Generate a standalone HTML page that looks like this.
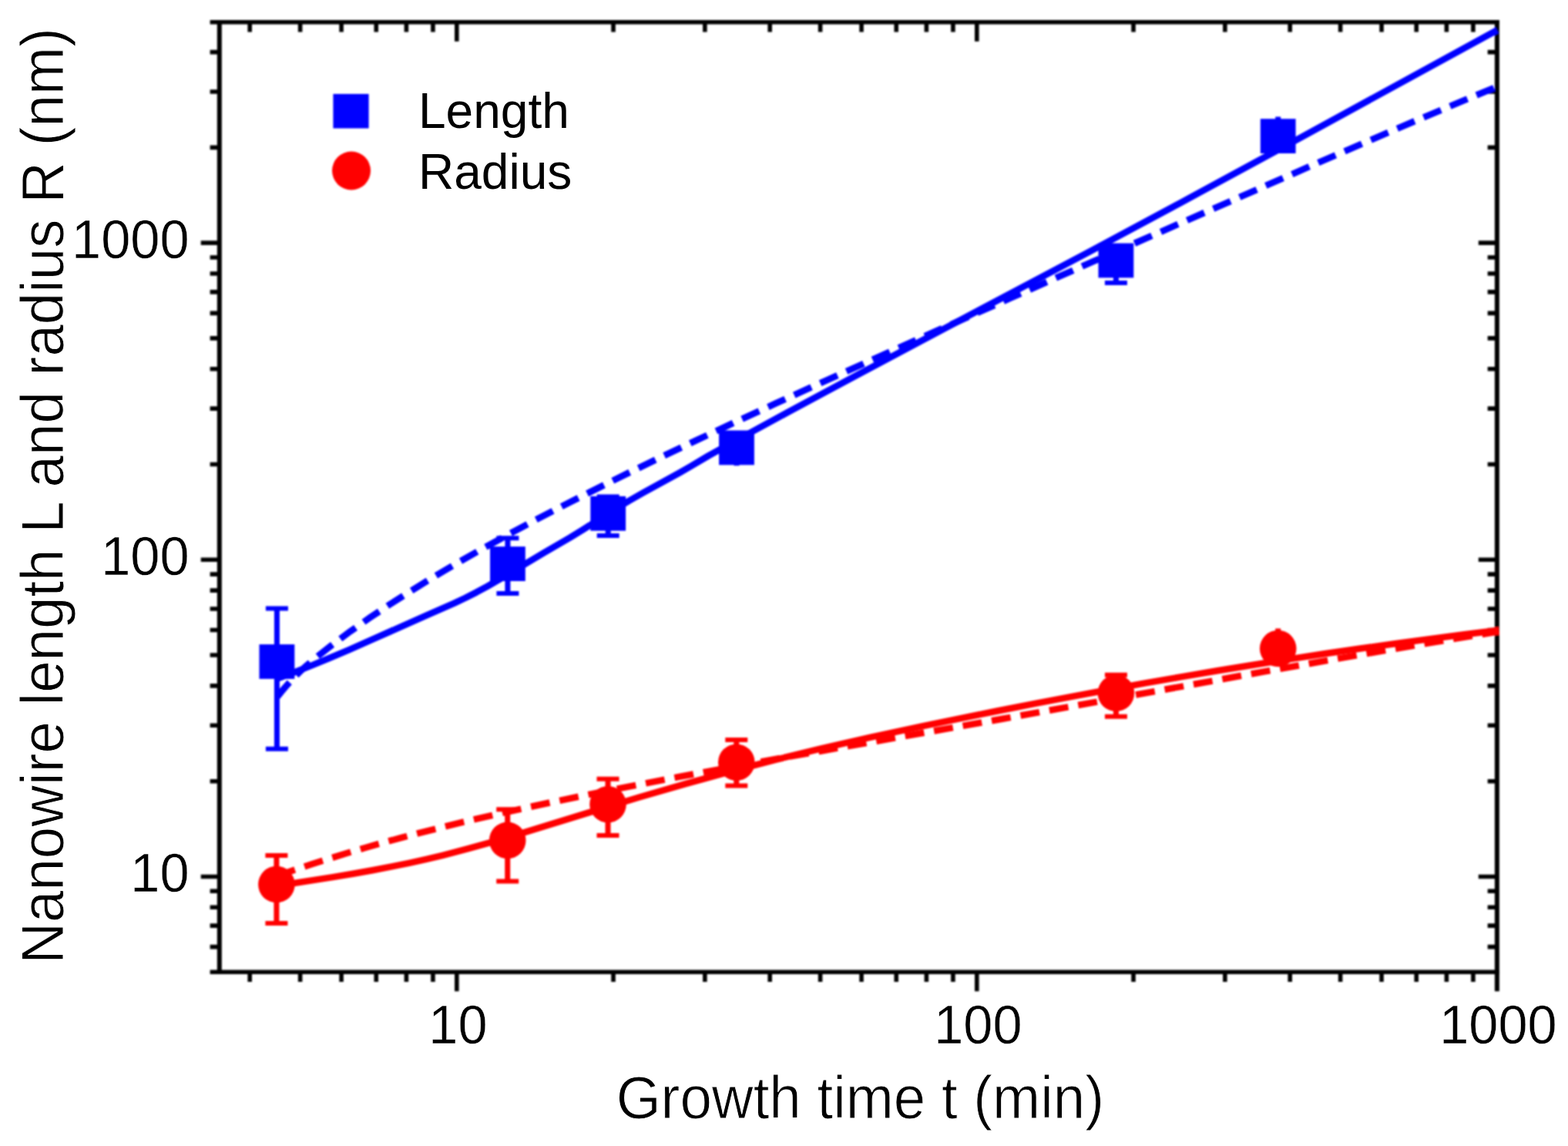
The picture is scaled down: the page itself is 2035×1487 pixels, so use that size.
<!DOCTYPE html>
<html lang="en">
<head>
<meta charset="utf-8">
<title>Nanowire length L and radius R versus growth time t</title>
<style>
html,body{margin:0;padding:0;background:#fff;overflow:hidden;}
body{width:2035px;height:1487px;overflow:hidden;font-family:"Liberation Sans",sans-serif;}
svg{display:block;}
</style>
</head>
<body>
<svg width="2035" height="1487" viewBox="0 0 2035 1487" role="img" aria-label="Log-log plot of nanowire length L and radius R (nm) versus growth time t (min)">
<rect width="2035" height="1487" fill="#fff"/>
<defs><filter id="soft" x="-2%" y="-2%" width="104%" height="104%"><feGaussianBlur stdDeviation="0.8"/></filter></defs>
<g id="plot" filter="url(#soft)">
<g id="axes" stroke="#000" fill="none">
<path d="M272.6 28.7H1945.9M272.6 1261.2H1945.9" stroke-width="5.6"/>
<path d="M284.8 25.9V1264M1942.9 25.9V1286.2" stroke-width="6.0"/>
</g>
<g id="ticks" stroke="#000" fill="none" stroke-width="5.6">
<path d="M324.19 1261.2v12.8M324.19 28.7v12.8M389.6 1261.2v12.8M389.6 28.7v12.8M443.05 1261.2v12.8M443.05 28.7v12.8M488.24 1261.2v12.8M488.24 28.7v12.8M527.39 1261.2v12.8M527.39 28.7v12.8M561.91 1261.2v12.8M561.91 28.7v12.8M592.8 1261.2v25M592.8 28.7v25M796 1261.2v12.8M796 28.7v12.8M914.86 1261.2v12.8M914.86 28.7v12.8M999.19 1261.2v12.8M999.19 28.7v12.8M1064.6 1261.2v12.8M1064.6 28.7v12.8M1118.05 1261.2v12.8M1118.05 28.7v12.8M1163.24 1261.2v12.8M1163.24 28.7v12.8M1202.39 1261.2v12.8M1202.39 28.7v12.8M1236.91 1261.2v12.8M1236.91 28.7v12.8M1267.8 1261.2v25M1267.8 28.7v25M1471 1261.2v12.8M1471 28.7v12.8M1589.86 1261.2v12.8M1589.86 28.7v12.8M1674.19 1261.2v12.8M1674.19 28.7v12.8M1739.6 1261.2v12.8M1739.6 28.7v12.8M1793.05 1261.2v12.8M1793.05 28.7v12.8M1838.24 1261.2v12.8M1838.24 28.7v12.8M1877.39 1261.2v12.8M1877.39 28.7v12.8M1911.91 1261.2v12.8M1911.91 28.7v12.8"/>
<path d="M284.8 1228.66h-12.2M1942.9 1228.66h-12.2M284.8 1201.14h-12.2M1942.9 1201.14h-12.2M284.8 1177.29h-12.2M1942.9 1177.29h-12.2M284.8 1156.26h-12.2M1942.9 1156.26h-12.2M284.8 1137.45h-24.1M1942.9 1137.45h-24.1M284.8 1013.68h-12.2M1942.9 1013.68h-12.2M284.8 941.28h-12.2M1942.9 941.28h-12.2M284.8 889.91h-12.2M1942.9 889.91h-12.2M284.8 850.07h-12.2M1942.9 850.07h-12.2M284.8 817.51h-12.2M1942.9 817.51h-12.2M284.8 789.99h-12.2M1942.9 789.99h-12.2M284.8 766.14h-12.2M1942.9 766.14h-12.2M284.8 745.11h-12.2M1942.9 745.11h-12.2M284.8 726.3h-24.1M1942.9 726.3h-24.1M284.8 602.53h-12.2M1942.9 602.53h-12.2M284.8 530.13h-12.2M1942.9 530.13h-12.2M284.8 478.76h-12.2M1942.9 478.76h-12.2M284.8 438.92h-12.2M1942.9 438.92h-12.2M284.8 406.36h-12.2M1942.9 406.36h-12.2M284.8 378.84h-12.2M1942.9 378.84h-12.2M284.8 354.99h-12.2M1942.9 354.99h-12.2M284.8 333.96h-12.2M1942.9 333.96h-12.2M284.8 315.15h-24.1M1942.9 315.15h-24.1M284.8 191.38h-12.2M1942.9 191.38h-12.2M284.8 118.98h-12.2M1942.9 118.98h-12.2M284.8 67.61h-12.2M1942.9 67.61h-12.2"/>
</g>
<g id="curves" fill="none" stroke-width="8.5" stroke-linejoin="round">
<path id="DB" d="M359.5 904.7L364.8 898.0L370.1 891.7L375.4 885.7L382.0 878.7L388.6 872.2L395.2 866.0L409.8 853.5L430.9 836.9L454.7 819.2L479.9 801.6L506.3 784.0L534.1 766.3L563.2 748.4L593.6 730.5L625.4 712.4L658.4 694.3L695.5 674.5L735.1 654.0L777.5 632.6L818.5 612.3L860.8 591.8L905.8 570.4L954.7 547.5L1006.3 523.7L1065.8 496.6L1215.3 429.5L1310.5 387.2L1419.0 339.2L1711.3 210.9L1777.4 182.3L1836.9 156.8L1892.5 133.4L1945.4 111.4" stroke="#0000ff" stroke-dasharray="24.5 12.7" stroke-dashoffset="36.47"/>
<path id="SB" d="M359.3 880.8L380.4 872.9L402.9 864.1L426.7 854.3L453.1 843.1L483.4 829.7L552.1 799.1L589.1 782.9L603.6 776.0L618.2 768.6L632.7 760.7L649.9 750.8L705.3 717.7L739.7 697.7L756.8 687.1L796.4 661.9L816.3 649.9L834.7 639.4L882.3 613.2L895.5 605.6L919.3 591.5L951.0 573.9L1022.3 535.0L1109.4 488.2L1195.3 442.4L1413.2 326.9L1532.1 263.2L1669.4 188.7L1942.8 39.3" stroke="#0000ff"/>
<path id="DR" d="M359.0 1136.8L381.5 1129.0L404.0 1121.5L426.5 1114.3L450.3 1107.0L474.1 1100.0L497.9 1093.2L523.1 1086.4L548.2 1079.8L601.1 1066.6L656.7 1053.8L718.9 1040.3L789.0 1025.9L880.3 1008.2L982.2 989.3L1066.9 974.2L1302.4 932.5L1639.8 871.6L1725.8 856.4L1803.8 842.9L1876.6 830.7L1945.4 819.4" stroke="#ff0000" stroke-dasharray="25 13.02" stroke-dashoffset="37.84"/>
<path id="SR" d="M359.0 1149.5L430.4 1138.4L458.2 1133.7L483.4 1129.3L507.2 1124.7L531.0 1119.8L553.5 1114.9L574.7 1109.8L607.7 1101.2L644.8 1090.8L680.5 1080.1L773.1 1051.6L828.7 1034.8L889.6 1017.2L947.8 1001.1L1007.3 985.6L1065.5 971.4L1129.0 956.9L1197.8 942.1L1244.2 932.6L1294.4 922.5L1343.4 912.9L1391.0 903.8L1438.7 895.0L1486.3 886.4L1533.9 878.1L1580.2 870.3L1626.5 862.7L1672.8 855.4L1719.1 848.3L1765.5 841.5L1810.4 835.2L1855.4 829.1L1900.4 823.2L1945.4 817.7" stroke="#ff0000"/>
</g>
<g id="series-L" fill="#0000ff" stroke="#0000ff">
<path d="M359.4 789.5V971.7M658.9 698.2V769.9M789.2 644.4V695M956 565V604.2M1448.4 322V367M1658.7 151.5V192" stroke-width="7.0" fill="none"/>
<path d="M344.9 789.5h29M344.9 971.7h29M644.4 698.2h29M644.4 769.9h29M774.7 644.4h29M774.7 695h29M941.5 565h29M941.5 598h29M1433.9 322h29M1433.9 367h29M1644.2 160h29M1644.2 192h29" stroke-width="6" fill="none"/>
<rect x="336.5" y="836.1" width="45.8" height="44.8" stroke="none"/>
<rect x="636" y="709.2" width="45.8" height="44.8" stroke="none"/>
<rect x="766.3" y="643.9" width="45.8" height="44.8" stroke="none"/>
<rect x="933.1" y="558.5" width="45.8" height="44.8" stroke="none"/>
<rect x="1425.5" y="315.6" width="45.8" height="44.8" stroke="none"/>
<rect x="1635.8" y="154.2" width="45.8" height="44.8" stroke="none"/>
</g>
<g id="series-R" fill="#ff0000" stroke="#ff0000">
<path d="M358.9 1110V1198M658.7 1050.3V1143.5M789 1010.8V1084M955.8 960.1V1019.6M1448.4 875.7V929.7M1658.7 815.5V856" stroke-width="7.0" fill="none"/>
<path d="M344.4 1110h29M344.4 1198h29M644.2 1050.3h29M644.2 1143.5h29M774.5 1010.8h29M774.5 1084h29M941.3 960.1h29M941.3 1019.6h29M1433.9 875.7h29M1433.9 929.7h29M1644.2 826h29M1644.2 856h29" stroke-width="6" fill="none"/>
<circle cx="358.9" cy="1147.6" r="23.8" stroke="none"/>
<circle cx="658.7" cy="1090.4" r="23.8" stroke="none"/>
<circle cx="789" cy="1043.7" r="23.8" stroke="none"/>
<circle cx="955.8" cy="989.2" r="23.8" stroke="none"/>
<circle cx="1448.4" cy="899.3" r="23.8" stroke="none"/>
<circle cx="1658.7" cy="841.5" r="23.8" stroke="none"/>
</g>
<g id="legend">
<rect x="432.4" y="121.9" width="46.2" height="44.6" fill="#0000ff"/>
<circle cx="456" cy="221.5" r="25" fill="#ff0000"/>
</g>
</g>
<g id="labels" font-family="'Liberation Sans', sans-serif" fill="#000" stroke="#fff" stroke-width="0" stroke-linejoin="round">
<text transform="translate(543 166)" font-size="64">Length</text>
<text transform="translate(543 244.6)" font-size="64">Radius</text>
<text transform="translate(245.5 334.65) scale(1.0 1.025)" font-size="68.5" text-anchor="end" stroke-width="0.4">1000</text>
<text transform="translate(245.5 745.8) scale(1.0 1.025)" font-size="68.5" text-anchor="end" stroke-width="0.4">100</text>
<text transform="translate(245.5 1156.95) scale(1.0 1.025)" font-size="68.5" text-anchor="end" stroke-width="0.4">10</text>
<text transform="translate(594.4 1353.5) scale(1.0 1.025)" font-size="68.5" text-anchor="middle" stroke-width="0.4">10</text>
<text transform="translate(1269.4 1353.5) scale(1.0 1.025)" font-size="68.5" text-anchor="middle" stroke-width="0.4">100</text>
<text transform="translate(1944.4 1353.5) scale(1.0 1.025)" font-size="68.5" text-anchor="middle" stroke-width="0.4">1000</text>
<text transform="translate(1116.3 1450.8) scale(0.9935 1.045)" font-size="75" text-anchor="middle" stroke-width="0.9">Growth time t (min)</text>
<text transform="translate(81.5 643.5) rotate(-90) scale(0.9935 1.045)" font-size="75" text-anchor="middle" stroke-width="0.9">Nanowire length L and radius R (nm)</text>
</g>
</svg>
</body>
</html>
